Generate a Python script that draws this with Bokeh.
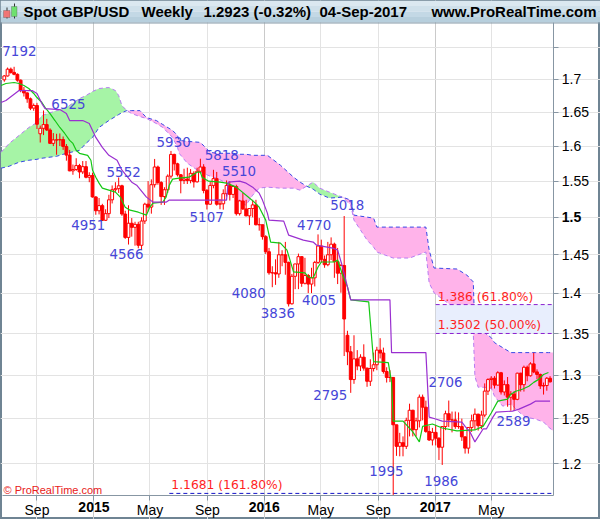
import datetime as dt
from bokeh.plotting import figure
from bokeh.models import (ColumnDataSource, FixedTicker, Label, Range1d, Grid,
                          DatetimeAxis, LogAxis, BoxAnnotation)
from bokeh.embed import file_html
from bokeh.resources import INLINE
from bokeh.core.properties import value

# ---------------- data ----------------
START = dt.datetime(2014, 6, 23)   # first weekly candle

open_ = [1.6990, 1.7050, 1.7155, 1.7105, 1.7075, 1.6985, 1.6830, 1.6790, 1.6700, 1.6560,
         1.6600, 1.6180, 1.6260, 1.6315, 1.6235, 1.6040, 1.6090, 1.6090, 1.6095, 1.5995,
         1.5870, 1.5645, 1.5665, 1.5720, 1.5630, 1.5705, 1.5555, 1.5580, 1.5280, 1.5090,
         1.5160, 1.4960, 1.5050, 1.5240, 1.5380, 1.5395, 1.5435, 1.5045, 1.4730, 1.4920,
         1.4865, 1.4905, 1.4625, 1.4950, 1.5180, 1.5140, 1.5450, 1.5700, 1.5480, 1.5285,
         1.5380, 1.5570, 1.5880, 1.5745, 1.5590, 1.5510, 1.5530, 1.5510, 1.5610, 1.5490,
         1.5640, 1.5700, 1.5370, 1.5180, 1.5440, 1.5535, 1.5180, 1.5185, 1.5325, 1.5440,
         1.5315, 1.5425, 1.5050, 1.5225, 1.5115, 1.5020, 1.5120, 1.5170, 1.4900, 1.4900,
         1.4740, 1.4540, 1.4265, 1.4265, 1.4250, 1.4500, 1.4500, 1.4400, 1.3870, 1.4220,
         1.4380, 1.4475, 1.4130, 1.4230, 1.4120, 1.4200, 1.4400, 1.4615, 1.4440, 1.4370,
         1.4500, 1.4640, 1.4410, 1.4260, 1.4360, 1.3480, 1.3280, 1.2950, 1.3195, 1.3110,
         1.3215, 1.3085, 1.2930, 1.3080, 1.3125, 1.3300, 1.3265, 1.3045, 1.2975, 1.2975,
         1.2430, 1.2190, 1.2230, 1.2190, 1.2480, 1.2595, 1.2375, 1.2475, 1.2745, 1.2630,
         1.2355, 1.2260, 1.2345, 1.2280, 1.2180, 1.2410, 1.2555, 1.2485, 1.2485, 1.2410,
         1.2410, 1.2295, 1.2170, 1.2400, 1.2475, 1.2550, 1.2420, 1.2540, 1.2815, 1.2950,
         1.2965, 1.2885, 1.3030, 1.2805, 1.2890, 1.2745, 1.2780, 1.2720, 1.3025, 1.2890,
         1.3095, 1.2995, 1.3135, 1.3040, 1.3010, 1.2875, 1.2880, 1.2965]
high = [1.7063, 1.7180, 1.7180, 1.7192, 1.7090, 1.6995, 1.6880, 1.6800, 1.6720, 1.6630,
        1.6640, 1.6300, 1.6525, 1.6400, 1.6260, 1.6190, 1.6180, 1.6185, 1.6140, 1.6030,
        1.5945, 1.5735, 1.5825, 1.5745, 1.5785, 1.5785, 1.5625, 1.5620, 1.5290, 1.5265,
        1.5185, 1.5110, 1.5310, 1.5440, 1.5485, 1.5552, 1.5450, 1.5090, 1.5165, 1.4990,
        1.4940, 1.4940, 1.5000, 1.5200, 1.5500, 1.5525, 1.5815, 1.5720, 1.5500, 1.5415,
        1.5595, 1.5930, 1.5890, 1.5760, 1.5600, 1.5675, 1.5690, 1.5670, 1.5640, 1.5690,
        1.5818, 1.5740, 1.5390, 1.5490, 1.5660, 1.5630, 1.5250, 1.5385, 1.5510, 1.5500,
        1.5440, 1.5450, 1.5240, 1.5335, 1.5240, 1.5120, 1.5240, 1.5240, 1.4990, 1.4900,
        1.4760, 1.4590, 1.4350, 1.4440, 1.4670, 1.4560, 1.4670, 1.4410, 1.4250, 1.4380,
        1.4515, 1.4480, 1.4460, 1.4250, 1.4330, 1.4420, 1.4770, 1.4700, 1.4490, 1.4670,
        1.4730, 1.4660, 1.4590, 1.4380, 1.5018, 1.3535, 1.3350, 1.3480, 1.3300, 1.3250,
        1.3370, 1.3090, 1.3190, 1.3270, 1.3340, 1.3445, 1.3330, 1.3095, 1.3060, 1.2980,
        1.2430, 1.2340, 1.2300, 1.2510, 1.2670, 1.2600, 1.2510, 1.2775, 1.2775, 1.2705,
        1.2420, 1.2395, 1.2430, 1.2290, 1.2415, 1.2590, 1.2706, 1.2580, 1.2580, 1.2570,
        1.2500, 1.2300, 1.2400, 1.2545, 1.2615, 1.2555, 1.2590, 1.2905, 1.2965, 1.2990,
        1.2990, 1.3048, 1.3040, 1.2940, 1.2980, 1.2815, 1.2815, 1.3030, 1.3030, 1.3115,
        1.3115, 1.3155, 1.3268, 1.3070, 1.3020, 1.2915, 1.2980, 1.2990]
low = [1.6960, 1.7040, 1.7085, 1.7060, 1.6960, 1.6800, 1.6735, 1.6640, 1.6530, 1.6520,
       1.6250, 1.6052, 1.6160, 1.6220, 1.6030, 1.6000, 1.5875, 1.6000, 1.5945, 1.5790,
       1.5640, 1.5590, 1.5645, 1.5540, 1.5600, 1.5540, 1.5485, 1.5270, 1.5035, 1.5040,
       1.4951, 1.4950, 1.4990, 1.5190, 1.5350, 1.5335, 1.5020, 1.4710, 1.4635, 1.4740,
       1.4620, 1.4585, 1.4566, 1.4910, 1.5080, 1.5050, 1.5410, 1.5450, 1.5170, 1.5170,
       1.5335, 1.5535, 1.5650, 1.5565, 1.5330, 1.5460, 1.5460, 1.5470, 1.5410, 1.5480,
       1.5610, 1.5330, 1.5107, 1.5170, 1.5400, 1.5160, 1.5110, 1.5105, 1.5285, 1.5230,
       1.5265, 1.5025, 1.5025, 1.5100, 1.5015, 1.4895, 1.5000, 1.4890, 1.4820, 1.4700,
       1.4510, 1.4240, 1.4080, 1.4110, 1.4200, 1.4350, 1.4240, 1.3836, 1.3860, 1.4055,
       1.4055, 1.4085, 1.4115, 1.4005, 1.4005, 1.4090, 1.4380, 1.4400, 1.4330, 1.4350,
       1.4430, 1.4200, 1.4120, 1.4010, 1.3229, 1.3120, 1.2795, 1.2900, 1.3060, 1.3050,
       1.3055, 1.2865, 1.2875, 1.3045, 1.3060, 1.3200, 1.3020, 1.2915, 1.2920, 1.1665,
       1.2085, 1.2080, 1.2080, 1.2160, 1.2300, 1.2300, 1.2300, 1.2400, 1.2480, 1.2340,
       1.2250, 1.2200, 1.2200, 1.2040, 1.1986, 1.2370, 1.2405, 1.2345, 1.2385, 1.2385,
       1.2250, 1.2110, 1.2110, 1.2350, 1.2375, 1.2365, 1.2380, 1.2515, 1.2770, 1.2845,
       1.2845, 1.2880, 1.2775, 1.2765, 1.2635, 1.2589, 1.2590, 1.2710, 1.2810, 1.2810,
       1.2930, 1.2985, 1.3025, 1.2955, 1.2840, 1.2775, 1.2820, 1.2915]
close_ = [1.7050, 1.7155, 1.7105, 1.7075, 1.6985, 1.6830, 1.6790, 1.6700, 1.6560, 1.6600,
          1.6320, 1.6260, 1.6315, 1.6235, 1.6040, 1.6090, 1.6090, 1.6095, 1.5995, 1.5870,
          1.5645, 1.5665, 1.5720, 1.5630, 1.5705, 1.5555, 1.5580, 1.5280, 1.5090, 1.5160,
          1.4960, 1.5050, 1.5240, 1.5380, 1.5395, 1.5435, 1.5045, 1.4730, 1.4920, 1.4865,
          1.4905, 1.4625, 1.4950, 1.5180, 1.5140, 1.5450, 1.5700, 1.5480, 1.5285, 1.5380,
          1.5570, 1.5880, 1.5745, 1.5590, 1.5510, 1.5530, 1.5510, 1.5610, 1.5490, 1.5640,
          1.5700, 1.5370, 1.5180, 1.5440, 1.5535, 1.5180, 1.5185, 1.5325, 1.5440, 1.5315,
          1.5425, 1.5050, 1.5225, 1.5115, 1.5020, 1.5120, 1.5170, 1.4900, 1.4900, 1.4740,
          1.4540, 1.4265, 1.4265, 1.4250, 1.4500, 1.4500, 1.4400, 1.3870, 1.4220, 1.4380,
          1.4475, 1.4130, 1.4230, 1.4120, 1.4200, 1.4400, 1.4615, 1.4440, 1.4370, 1.4500,
          1.4640, 1.4410, 1.4260, 1.4360, 1.3680, 1.3280, 1.2950, 1.3195, 1.3110, 1.3215,
          1.3085, 1.2930, 1.3080, 1.3125, 1.3300, 1.3265, 1.3045, 1.2975, 1.2975, 1.2430,
          1.2190, 1.2230, 1.2190, 1.2480, 1.2595, 1.2375, 1.2475, 1.2745, 1.2630, 1.2355,
          1.2260, 1.2345, 1.2280, 1.2180, 1.2410, 1.2555, 1.2485, 1.2485, 1.2410, 1.2410,
          1.2295, 1.2170, 1.2400, 1.2475, 1.2550, 1.2420, 1.2540, 1.2815, 1.2950, 1.2965,
          1.2885, 1.3030, 1.2805, 1.2890, 1.2745, 1.2780, 1.2720, 1.3025, 1.2890, 1.3095,
          1.2995, 1.3135, 1.3040, 1.3010, 1.2875, 1.2880, 1.2965, 1.2923]

# Ichimoku cloud edges (week index, Senkou A, Senkou B)
cloud_w = [-1, 1.5, 4.5, 7.5, 10, 11.5, 16, 19, 23, 25, 27, 29, 32, 34, 35, 36, 37.5, 39, 41.5,
           43.5, 46.5, 48.5, 51.5, 53, 53.5, 56, 60, 63, 65, 68, 70, 72, 74, 76, 78, 80.5,
           84.5, 88.5, 90.5, 92.5, 94.5, 96.5, 99.5, 103.5, 106, 107, 109, 111, 113, 114,
           119, 124, 129, 130, 131.5, 138.5, 141.5, 143.5, 144, 145, 147, 149, 150, 152.5,
           155, 157.5, 159.5, 162.5, 165, 166.5, 168]
span_a = [1.5910, 1.6039, 1.6155, 1.6272, 1.6345, 1.6449, 1.6523, 1.6568, 1.6704, 1.6750,
          1.6811, 1.6857, 1.6872, 1.6826, 1.6750, 1.6598, 1.6523, 1.6478, 1.6434, 1.6405,
          1.6331, 1.6272, 1.6126, 1.5982, 1.5896, 1.5754, 1.5627, 1.5570, 1.5542, 1.5472,
          1.5374, 1.5194, 1.5167, 1.5305, 1.5402, 1.5416, 1.5402, 1.5402, 1.5374, 1.5430,
          1.5486, 1.5402, 1.5346, 1.5277, 1.5167, 1.4962, 1.4828, 1.4694, 1.4601, 1.4536,
          1.4457, 1.4457, 1.4536, 1.4135, 1.4008, 1.3795, 1.3548, 1.3511, 1.2987, 1.2860,
          1.2860, 1.2848, 1.2756, 1.2642, 1.2665, 1.2574, 1.2517, 1.2495, 1.2461, 1.2405,
          1.2361]
span_b = [1.5683, 1.5711, 1.5768, 1.5796, 1.5810, 1.5825, 1.5853, 1.5896, 1.5939, 1.6039,
          1.6126, 1.6272, 1.6375, 1.6434, 1.6464, 1.6493, 1.6523, 1.6523, 1.6523, 1.6419,
          1.6375, 1.6316, 1.6228, 1.6155, 1.6083, 1.6069, 1.6054, 1.5910, 1.5896, 1.5896,
          1.5896, 1.5882, 1.5882, 1.5867, 1.5867, 1.5867, 1.5725, 1.5556, 1.5486, 1.5430,
          1.5388, 1.5319, 1.5264, 1.5277, 1.5236, 1.5030, 1.5016, 1.5003, 1.4989, 1.4868,
          1.4868, 1.4868, 1.4868, 1.4562, 1.4327, 1.4314, 1.4237, 1.4148, 1.3511, 1.3511,
          1.3511, 1.3451, 1.3390, 1.3330, 1.3270, 1.3270, 1.3270, 1.3270, 1.3270, 1.3270,
          1.3270]

# Tenkan (green) and Kijun (purple) lines, vertices
tenkan_w = [-1, 0.5, 3, 4.5, 6, 7.5, 9, 10, 11.5, 12.5, 14, 15.5, 17, 18.5, 20, 21, 22, 23,
            25.5, 26.5, 27, 28, 29, 30, 32, 34, 35.5, 37, 38.5, 41, 43.5, 44.5, 45.5, 48.5,
            49.5, 50.5, 51.5, 53.5, 56.5, 59, 60, 60.5, 62.5, 66, 68, 71, 75, 76.5, 78, 80,
            81.5, 84.5, 86.5, 88.5, 92, 93, 94.5, 96, 97, 101, 102, 103.5, 105, 106, 111.5,
            113, 117.5, 118.5, 119, 122, 125, 127, 128, 131, 134, 138.5, 144, 146.5, 149,
            151, 154, 155, 156.5, 158.5, 160.5, 162, 163.5, 165, 166.5]
tenkan_v = [1.6903, 1.6934, 1.6949, 1.6934, 1.6903, 1.6857, 1.6781, 1.6720, 1.6644, 1.6568,
            1.6478, 1.6375, 1.6272, 1.6184, 1.6083, 1.6039, 1.5939, 1.5896, 1.5867, 1.5796,
            1.5655, 1.5556, 1.5472, 1.5402, 1.5374, 1.5346, 1.5277, 1.5139, 1.5098, 1.5070,
            1.5030, 1.5139, 1.5194, 1.5208, 1.5277, 1.5444, 1.5528, 1.5542, 1.5556, 1.5627,
            1.5627, 1.5556, 1.5500, 1.5486, 1.5472, 1.5416, 1.5264, 1.5208, 1.5139, 1.4962,
            1.4668, 1.4654, 1.4562, 1.4276, 1.4263, 1.4211, 1.4198, 1.4340, 1.4405, 1.4405,
            1.4431, 1.4237, 1.4084, 1.3920, 1.3895, 1.3163, 1.3151, 1.2917, 1.2472, 1.2472,
            1.2350, 1.2239, 1.2412, 1.2439, 1.2394, 1.2361, 1.2372, 1.2412, 1.2563, 1.2699,
            1.2722, 1.2779, 1.2814, 1.2837, 1.2871, 1.2917, 1.2952, 1.3010, 1.3033]
kijun_w = [-1, 0.5, 4.5, 8.5, 10, 11.5, 12.5, 17, 19, 20, 24, 26, 28, 30, 32, 34.5, 36, 39,
           40.5, 43.5, 45.5, 49.5, 50.5, 68, 68.5, 72, 74, 76, 78, 79, 80.5, 81, 85.5, 87,
           91.5, 94.5, 95.5, 100.5, 102, 103.5, 105, 106, 118, 118.5, 129, 130, 132, 134,
           140, 141, 142.5, 144, 146.5, 147.5, 149.5, 150.5, 155.5, 157.5, 161, 162.5, 167]
kijun_v = [1.6644, 1.6674, 1.6826, 1.6826, 1.6781, 1.6628, 1.6553, 1.6538, 1.6478, 1.6375,
           1.6375, 1.6331, 1.6126, 1.5982, 1.5867, 1.5796, 1.5655, 1.5486, 1.5444, 1.5277,
           1.5208, 1.5208, 1.5236, 1.5236, 1.5486, 1.5500, 1.5472, 1.5416, 1.5332, 1.5236,
           1.5057, 1.4962, 1.4948, 1.4761, 1.4694, 1.4668, 1.4628, 1.4588, 1.4562, 1.4340,
           1.4084, 1.3920, 1.3920, 1.3270, 1.3270, 1.2517, 1.2495, 1.2472, 1.2461, 1.2412,
           1.2350, 1.2239, 1.2383, 1.2383, 1.2517, 1.2574, 1.2585, 1.2608, 1.2665, 1.2699,
           1.2699]

# swing labels
zz_text = ["7192", "6525", "5552", "4951", "4566", "5930", "5818", "5510", "5107", "4080",
           "3836", "4770", "4005", "5018", "2795", "2706", "1995", "1986", "2589"]
zz_w = [-0.6, 14.4, 31.3, 20.5, 32.2, 46.6, 61.3, 66.6, 56.7, 69.6,
        78.5, 89.6, 91.1, 99.7, 94.5, 129.8, 111.7, 128.5, 150.6]
zz_y = [1.7432, 1.6628, 1.5627, 1.4895, 1.4510, 1.6054, 1.5867, 1.5641, 1.5003, 1.4008,
        1.3757, 1.4895, 1.3920, 1.5167, 1.2768, 1.2926, 1.1917, 1.1810, 1.2470]

# Fibonacci levels
fib_levels = [1.386, 1.3502, 1.1681]
fib_text = ["1.386 (61.80%)", "1.3502 (50.00%)", "1.1681 (161.80%)"]
fib_start_w = [132, 132, 50.5]
fib_line_color = ["#8a1fd0", "#8a1fd0", "#1414c8"]

# axis ticks
x_tick_dates = [dt.datetime(2014, 9, 1), dt.datetime(2015, 1, 1), dt.datetime(2015, 5, 1),
                dt.datetime(2015, 9, 1), dt.datetime(2016, 1, 1), dt.datetime(2016, 5, 1),
                dt.datetime(2016, 9, 1), dt.datetime(2017, 1, 1), dt.datetime(2017, 5, 1)]
x_tick_labels = ["Sep", "2015", "May", "Sep", "2016", "May", "Sep", "2017", "May"]
y_ticks = [1.2, 1.25, 1.3, 1.35, 1.4, 1.45, 1.5, 1.55, 1.6, 1.65, 1.7, 1.75]

# ---------------- helpers ----------------
EPOCH = dt.datetime(1970, 1, 1)


def wdate(w):
    return START + dt.timedelta(days=7 * w)


def ms(d):
    return (d - EPOCH).total_seconds() * 1000.0


FONT = "Liberation Sans"
W, H = 600, 519
AXIS_C = "#8796a3"

# visible window (whole canvas) and the price-panel box inside it
X0, X1 = wdate(-1.163), wdate(182.43)
CL, CR = ms(wdate(-0.551)), ms(wdate(168.15))
Y_BOT, Y_TOP = 1.1660, 1.7896

p = figure(width=W, height=H, x_axis_type="datetime", y_axis_type="log",
           x_axis_location=None, y_axis_location=None,
           x_range=Range1d(X0, X1), y_range=Range1d(1.1408, 1.8256),
           output_backend="svg", toolbar_location=None, min_border=0)
p.background_fill_color = "white"
p.border_fill_color = "white"
p.outline_line_color = "#6f8493"
p.outline_line_width = 3
for g in list(p.xgrid) + list(p.ygrid):
    g.visible = False

xt = [ms(d) for d in x_tick_dates]
year_t = [ms(d) for d, lab in zip(x_tick_dates, x_tick_labels) if lab.isdigit()]
p.add_layout(Grid(dimension=0, ticker=FixedTicker(ticks=xt), bounds=(Y_BOT, Y_TOP),
                  grid_line_color="#e3e3e3"))
p.add_layout(Grid(dimension=0, ticker=FixedTicker(ticks=year_t), bounds=(Y_BOT, Y_TOP),
                  grid_line_color="#cacaca"))
p.add_layout(Grid(dimension=1, ticker=FixedTicker(ticks=y_ticks), bounds=(CL, CR),
                  grid_line_color="#e3e3e3"))

# cloud
cd = [wdate(w) for w in cloud_w]
cmax = [max(a, b) for a, b in zip(span_a, span_b)]
csrc = ColumnDataSource(dict(x=cd, a=span_a, b=span_b, m=cmax))
p.varea(x="x", y1="b", y2="m", source=csrc, fill_color="#a6f4a6")
p.varea(x="x", y1="a", y2="m", source=csrc, fill_color="#ffb3ea")
p.line(x="x", y="a", source=csrc, line_color="#b77cf2", line_dash="4 3", line_width=1)
p.line(x="x", y="b", source=csrc, line_color="#3848e6", line_dash="4 3", line_width=1)

# fib zone & lines
p.quad(left=[wdate(fib_start_w[0])], right=[CR], bottom=[fib_levels[1]], top=[fib_levels[0]],
       fill_color="#e8eefd", line_color=None)
fsrc = ColumnDataSource(dict(x0=[wdate(w) for w in fib_start_w], x1=[CR] * 3,
                             y=fib_levels, c=fib_line_color, t=fib_text))
p.segment(x0="x0", y0="y", x1="x1", y1="y", line_color="c", line_dash="4 3",
          line_width=1, source=fsrc)
p.text(x="x0", y="y", text="t", source=fsrc, text_color="#ff1f1f",
       text_font=value("DejaVu Sans"), text_font_size=value("12.3px"),
       text_baseline="bottom", text_align="left", x_offset=2, y_offset=-1)

# candles
dates = [wdate(i) for i in range(len(close_))]
top = [max(o, c) for o, c in zip(open_, close_)]
bot = [min(o, c) for o, c in zip(open_, close_)]
up = [c >= o for o, c in zip(open_, close_)]
p.segment(x0=dates, y0=low, x1=dates, y1=high, line_color="#ff0000", line_width=1)
wid = 6 * 24 * 3600 * 1000
upsrc = ColumnDataSource(dict(x=[d for d, u in zip(dates, up) if u],
                              t=[v for v, u in zip(top, up) if u],
                              b=[v for v, u in zip(bot, up) if u]))
dnsrc = ColumnDataSource(dict(x=[d for d, u in zip(dates, up) if not u],
                              t=[v for v, u in zip(top, up) if not u],
                              b=[v for v, u in zip(bot, up) if not u]))
p.vbar(x="x", top="t", bottom="b", width=wid, source=upsrc,
       fill_color="white", line_color="#ff0000", line_width=1)
p.vbar(x="x", top="t", bottom="b", width=wid, source=dnsrc,
       fill_color="#ff0000", line_color="#ff0000", line_width=1)

# tenkan / kijun
p.line([wdate(w) for w in tenkan_w], tenkan_v, line_color="#14c814", line_width=1.2)
p.line([wdate(w) for w in kijun_w], kijun_v, line_color="#9a2fd0", line_width=1.2)

# swing labels
zsrc = ColumnDataSource(dict(x=[wdate(w) for w in zz_w], y=zz_y, t=zz_text))
p.text(x="x", y="y", text="t", source=zsrc, text_color="#4646d8",
       text_font=value("DejaVu Sans"), text_font_size=value("13.4px"),
       text_baseline="middle", text_align="left")


# ---------------- axes (fixed at the price-panel edges) ----------------
def style(ax, bold=False, show_lines=True):
    ax.major_tick_out = 5
    ax.major_tick_in = 0
    ax.minor_tick_line_color = None
    ax.major_tick_line_color = AXIS_C if show_lines else None
    ax.axis_line_color = AXIS_C if show_lines else None
    ax.major_label_text_font = FONT
    ax.major_label_text_font_size = "14px"
    ax.major_label_text_color = "#000000"
    ax.major_label_text_font_style = "bold" if bold else "normal"


xax = DatetimeAxis(ticker=FixedTicker(ticks=xt, minor_ticks=[]), fixed_location=Y_BOT,
                   bounds=(CL, CR))
xax.major_label_overrides = {t: ("" if lab.isdigit() else lab) for t, lab in zip(xt, x_tick_labels)}
style(xax)
xax.major_label_standoff = 2
p.add_layout(xax, "below")

yrax = DatetimeAxis(ticker=FixedTicker(ticks=year_t, minor_ticks=[]), fixed_location=Y_BOT,
                    bounds=(CL, CR))
yrax.major_label_overrides = {t: lab for t, lab in zip(xt, x_tick_labels) if lab.isdigit()}
style(yrax, bold=True, show_lines=False)
yrax.major_label_standoff = 2
p.add_layout(yrax, "below")

yax = LogAxis(ticker=FixedTicker(ticks=y_ticks, minor_ticks=[]), fixed_location=CR,
              bounds=(Y_BOT, Y_TOP))
yax.major_label_overrides = {t: ("" if t in (1.5, 1.75) else f"{t:g}") for t in y_ticks}
style(yax)
yax.major_label_standoff = 3
p.add_layout(yax, "right")

bax = LogAxis(ticker=FixedTicker(ticks=[1.5], minor_ticks=[]), fixed_location=CR,
              bounds=(Y_BOT, Y_TOP))
bax.major_label_overrides = {1.5: "1.5"}
style(bax, bold=True, show_lines=False)
bax.major_label_standoff = 3
p.add_layout(bax, "right")

# ---------------- header bar ----------------
bands = [(0, 5.5, "#dbe8f0"), (5.5, 11, "#cfe0ea"), (11, 16.5, "#c3d8e5"), (16.5, 22, "#b7cfdd"),
         (22, 23, "#8599a8")]
for y0, y1, col in bands:
    p.add_layout(BoxAnnotation(left=0, right=W, top=H - y0, bottom=H - y1,
                               left_units="screen", right_units="screen",
                               top_units="screen", bottom_units="screen",
                               fill_color=col, fill_alpha=1.0, line_color=None))
icon = [(6, 7, 7, 18, "#333333", None), (13.5, 14.5, 3, 18, "#333333", None),
        (3, 9.5, 10, 17, "#f07575", "#444444"), (11, 16.5, 6, 16, "#6fe06f", "#444444")]
for l, r, t, b, fc, lc in icon:
    p.add_layout(BoxAnnotation(left=l, right=r, top=H - t, bottom=H - b,
                               left_units="screen", right_units="screen",
                               top_units="screen", bottom_units="screen",
                               fill_color=fc, fill_alpha=1.0, line_color=lc, line_width=1))
for tx, xx, al in [("Spot GBP/USD", 23, "left"), ("Weekly", 141, "left"),
                   ("1.2923 (-0.32%)", 203, "left"), ("04-Sep-2017", 319, "left"),
                   ("www.ProRealTime.com", 596, "right")]:
    p.add_layout(Label(x=xx, y=H - 11, x_units="screen", y_units="screen", text=tx,
                       text_align=al, text_baseline="middle", text_font=FONT,
                       text_font_style="bold", text_font_size="15px", text_color="#000000"))

p.add_layout(Label(x=3, y=H - 489, x_units="screen", y_units="screen",
                   text="\u00a9 ProRealTime.com", text_align="left", text_baseline="middle",
                   text_font=FONT, text_font_size="11px", text_color="#e82020"))

open("out.html", "w").write(file_html(p, INLINE))
